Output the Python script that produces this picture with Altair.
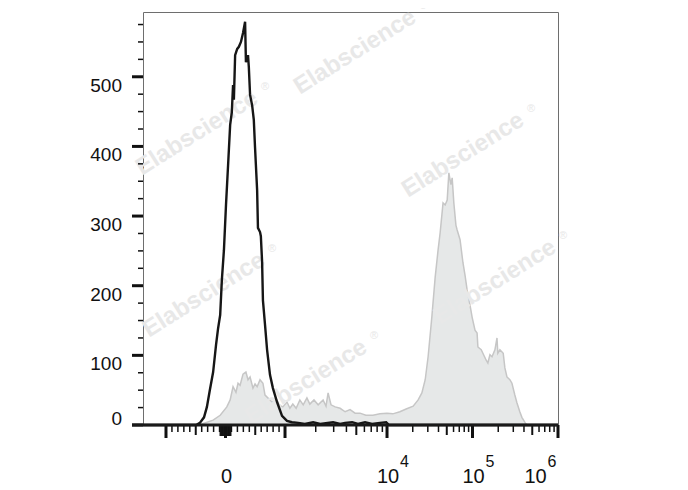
import math
import altair as alt
import pandas as pd

# ---------------- data (display channel 0-1000 on biexponential axis, event count) -------------
ctrl_channel = [0, 128, 137, 147, 154, 161, 169, 176, 181, 186,
                190, 195, 200, 205, 210, 214, 217, 219, 222, 227,
                231, 236, 241, 246, 248, 251, 253, 255, 258, 263,
                267, 270, 275, 277, 282, 284, 287, 289, 294, 299,
                306, 313, 323, 335, 347, 359, 374, 390, 410, 427,
                458, 475, 487, 504, 518, 535, 552, 571, 586, 593, 1000]
ctrl_count = [0, 0, 3, 11, 26, 50, 76, 115, 139, 158,
              208, 251, 316, 373, 431, 449, 488, 467, 531, 540,
              543, 550, 563, 579, 521, 528, 531, 514, 474, 459,
              438, 398, 337, 283, 277, 271, 234, 179, 144, 108,
              72, 53, 33, 13, 6, 4, 3, 1.5, 4, 1.5,
              4, 1.5, 3, 4, 1.5, 4, 1.5, 3, 4, 0, 0]

stain_channel = [133, 149, 169, 186, 202, 210, 217, 224, 229, 234,
                 241, 248, 253, 258, 265, 270, 275, 282, 289, 294,
                 299, 306, 313, 320, 328, 337, 347, 354, 361, 369,
                 378, 386, 395, 402, 412, 422, 434, 441, 446, 453,
                 463, 475, 487, 499, 511, 523, 537, 554, 571, 588,
                 602, 619, 634, 651, 663, 672, 680, 687, 696, 704,
                 711, 716, 723, 728, 733, 737, 742, 745, 749, 754,
                 757, 764, 771, 776, 781, 788, 793, 800, 805, 807,
                 815, 819, 827, 831, 836, 841, 848, 853, 855, 860,
                 868, 872, 877, 884, 889, 896, 901, 908, 913, 921, 925]
stain_count = [0, 3, 7, 14, 26, 36, 55, 47, 60, 57,
               73, 76, 65, 69, 53, 59, 55, 65, 60, 43,
               40, 36, 32, 39, 29, 26, 33, 24, 30, 24,
               36, 29, 39, 30, 36, 29, 36, 27, 46, 29,
               26, 24, 19, 22, 17, 17, 14, 14, 16, 17,
               16, 19, 23, 27, 36, 46, 65, 98, 155, 212,
               251, 276, 319, 316, 323, 362, 345, 355, 319, 287,
               280, 266, 233, 215, 194, 172, 155, 136, 132, 112,
               108, 103, 93, 89, 101, 98, 108, 125, 103, 108,
               103, 82, 69, 65, 60, 43, 32, 19, 11, 3, 0]

y_major = [0, 100, 200, 300, 400, 500]
y_minor = [v for v in range(25, 600, 25) if v % 100]

x_major = [-1000, 0, 1000, 1e4, 1e5, 1e6]
x_medium = [-500, 500, 5e3, 5e4, 5e5]
x_minor = ([-v for v in range(100, 1000, 100) if v != 500] +
           [v for v in range(100, 1000, 100) if v != 500] +
           [k * 10 ** d for d in (3, 4, 5) for k in range(2, 10) if k != 5])
x_dense = [s * v for s in (-1, 1) for v in range(10, 100, 10)]

x_label_value = [0, 1e4, 1e5, 1e6]
x_label_base = ["0", "10", "10", "10"]
x_label_exp = ["", "4", "5", "6"]


# biexponential display transform (value -> display channel)
def disp(v):
    if v <= 1000:
        return 198.8 + v * 0.1434
    if v <= 1e4:
        return 342.2 + math.log10(v / 1e3) * 245.8
    return 588 + math.log10(v / 1e4) * 206


W, H = 415, 413
FONT = "Liberation Sans"
xs = alt.Scale(domain=[0, 1000], nice=False, zero=False)
ys = alt.Scale(domain=[0, 593], nice=False, zero=False)

ctrl = pd.DataFrame({"ch": ctrl_channel, "n": ctrl_count})
stain = pd.DataFrame({"ch": stain_channel, "n": stain_count})

X = lambda f: alt.X(f, type="quantitative", scale=xs, axis=None)
Y = lambda f: alt.Y(f, type="quantitative", scale=ys, axis=None)

area = alt.Chart(stain).mark_area(
    color="#dcdede", interpolate="linear",
    line=alt.OverlayMarkDef(color="#c6c6c6", strokeWidth=1.5),
).encode(x=X("ch"), y=Y("n"))

# watermarks
wm_layers = []
for cx, cy in [(212, 40), (54, 121), (320, 143), (61, 283), (352, 270), (163, 370)]:
    wm_layers.append(alt.Chart(pd.DataFrame({"t": ["Elabscience"]})).mark_text(
        font=FONT, fontSize=24, fontWeight="bold", color="#e8e8e8", angle=328,
        align="center", baseline="middle").encode(
        x=alt.value(cx), y=alt.value(cy), text="t:N"))
    wm_layers.append(alt.Chart(pd.DataFrame({"t": ["®"]})).mark_text(
        font=FONT, fontSize=11, color="#e8e8e8",
        align="center", baseline="middle").encode(
        x=alt.value(cx + 68), y=alt.value(cy - 46), text="t:N"))

line = alt.Chart(ctrl).mark_line(color="#161616", strokeWidth=2.4, interpolate="linear").encode(
    x=X("ch"), y=Y("n"))


def xticks(vals, length, width):
    df = pd.DataFrame({"p": [disp(v) for v in vals]})
    return alt.Chart(df).mark_rule(color="#111", strokeWidth=width).encode(
        x=X("p"), y=alt.value(H), y2=alt.value(H + length))


def yticks(vals, length, width):
    df = pd.DataFrame({"v": vals})
    return alt.Chart(df).mark_rule(color="#111", strokeWidth=width).encode(
        y=Y("v"), x=alt.value(-length), x2=alt.value(0))


baseline = alt.Chart(pd.DataFrame({"a": [0]})).mark_rule(color="#1a1a1a", strokeWidth=3).encode(
    x=alt.value(-11), x2=alt.value(W), y=alt.value(H))

ylab_df = pd.DataFrame({"v": y_major[1:], "t": [str(v) for v in y_major[1:]]})
ylabels = alt.Chart(ylab_df).mark_text(font=FONT, fontSize=19, align="right",
                                       baseline="alphabetic", dy=15, color="#111").encode(
    y=Y("v"), x=alt.value(-21), text="t:N")
ylab0 = alt.Chart(pd.DataFrame({"v": [0], "t": ["0"]})).mark_text(
    font=FONT, fontSize=19, align="right", baseline="alphabetic", color="#111").encode(
    y=Y("v"), x=alt.value(-21), text="t:N")

xl = pd.DataFrame({"p": [disp(v) for v in x_label_value], "b": x_label_base, "e": x_label_exp})
xl_main = xl.iloc[:3]
xl_last = xl.iloc[3:]
xbase = alt.Chart(xl_main).mark_text(font=FONT, fontSize=20, align="center",
                                     baseline="alphabetic", dx=1, color="#111").encode(
    x=X("p"), y=alt.value(H + 58), text="b:N")
xexp = alt.Chart(xl_main).mark_text(font=FONT, fontSize=16, align="left",
                                    baseline="alphabetic", dx=13, color="#111").encode(
    x=X("p"), y=alt.value(H + 42), text="e:N")
xbase6 = alt.Chart(xl_last).mark_text(font=FONT, fontSize=20, align="center",
                                      baseline="alphabetic", dx=-22.5, color="#111").encode(
    x=X("p"), y=alt.value(H + 58), text="b:N")
xexp6 = alt.Chart(xl_last).mark_text(font=FONT, fontSize=16, align="left",
                                     baseline="alphabetic", dx=-10.5, color="#111").encode(
    x=X("p"), y=alt.value(H + 42), text="e:N")

chart = alt.layer(
    area, *wm_layers, line,
    xticks(x_minor, 7, 1.5), xticks(x_dense, 11, 1.2), xticks(x_medium, 10, 2), xticks(x_major, 13, 3),
    yticks(y_minor, 5, 1.5), yticks(y_major, 11, 3),
    baseline, ylabels, ylab0, xbase, xexp, xbase6, xexp6,
).properties(
    width=W, height=H,
    autosize=alt.AutoSizeParams(type="none"),
    padding={"left": 135, "top": 4, "right": 120, "bottom": 66},
).configure_view(stroke="#6e6e6e", strokeWidth=1)

chart.save("out.html", embed_options={"renderer": "svg", "actions": False})
